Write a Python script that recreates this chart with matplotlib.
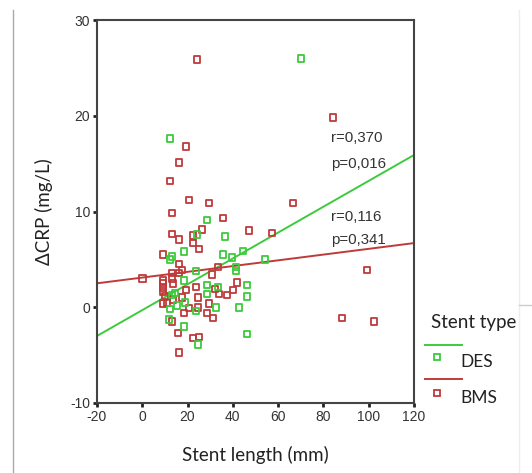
import matplotlib.pyplot as plt
from matplotlib.lines import Line2D

plt.rcParams["axes.unicode_minus"] = False

# DES (drug eluting stent) points: stent length (mm), delta CRP (mg/L)
des_x = [12.2, 28.6, 36.5, 24.2, 70.1, 18.4, 13.1, 12.2, 35.6, 39.6, 44.5, 54.2,
         23.7, 41.4, 41.4, 18.4, 28.6, 33.4, 46.3, 28.6, 46.3, 32.6, 42.7, 23.7,
         12.2, 15.3, 11.8, 18.4, 46.3, 24.6, 13.1, 14.5, 18.9]
des_y = [17.6, 9.1, 7.4, 7.6, 26.0, 5.8, 5.3, 5.0, 5.5, 5.2, 5.9, 5.0,
         3.8, 4.2, 3.8, 2.8, 2.3, 2.1, 2.3, 1.4, 1.1, 0.0, 0.0, -0.4,
         -0.2, 0.2, -1.3, -2.0, -2.8, -3.9, 1.3, 1.5, 0.5]

# BMS (bare metal stent) points
bms_x = [24.2, 84.2, 66.6, 57.3, 99.3, 88.2, 102.3, 0.0, 19.3, 16.2, 12.2, 20.6,
         29.5, 13.1, 35.6, 47.1, 13.1, 22.4, 26.4, 16.2, 22.4, 25.1, 9.1, 16.2,
         17.5, 13.1, 16.2, 33.4, 30.8, 9.1, 13.1, 41.8, 23.7, 32.1, 33.9, 37.4,
         40.0, 19.3, 24.6, 29.5, 24.6, 20.6, 18.4, 28.6, 31.2, 13.6, 9.1, 13.1,
         15.8, 22.4, 25.1, 16.2, 9.1, 9.1, 9.1, 10.0, 13.6, 17.5, 10.9]
bms_y = [25.9, 19.8, 10.9, 7.75, 3.9, -1.1, -1.5, 3.0, 16.8, 15.1, 13.2, 11.2,
         10.9, 9.85, 9.3, 8.0, 7.65, 7.5, 8.1, 7.1, 6.7, 6.1, 5.5, 4.5,
         3.9, 3.6, 3.6, 4.2, 3.4, 2.8, 3.0, 2.6, 2.1, 1.9, 1.4, 1.3,
         1.8, 1.8, 1.0, 0.4, 0.0, -0.1, -0.6, -0.6, -1.1, 0.8, 0.4, -1.5,
         -2.7, -3.2, -3.1, -4.7, 2.5, 2.0, 1.6, 1.1, 2.5, 1.0, 0.5]

# fit lines (intercept, slope)
des_fit = (-0.3, 0.135)
bms_fit = (3.1, 0.030)
x_range = [-20, 120]

des_stats = ["r=0,370", "p=0,016"]
bms_stats = ["r=0,116", "p=0,341"]

green = "#3ccb3c"
red = "#bf3a3a"

fig = plt.figure(figsize=(5.32, 4.73), dpi=100)
ax = fig.add_axes([0.1823, 0.148, 0.5959, 0.8097])

ax.plot(x_range, [des_fit[0] + des_fit[1] * x for x in x_range], color=green, lw=1.4, zorder=2)
ax.plot(x_range, [bms_fit[0] + bms_fit[1] * x for x in x_range], color=red, lw=1.4, zorder=2)
ax.scatter(bms_x, bms_y, marker="s", s=22, facecolors="none", edgecolors=red, linewidths=1.3, zorder=3)
ax.scatter(des_x, des_y, marker="s", s=22, facecolors="none", edgecolors=green, linewidths=1.3, zorder=3)

ax.set_xlim(-20, 120)
ax.set_ylim(-10, 30)
ax.set_xticks(range(-20, 121, 20))
ax.set_yticks(range(-10, 31, 10))
ax.tick_params(direction="out", length=3, width=2, color="#222222", labelsize=10,
               labelcolor="#333333", pad=2)
for lab in ax.get_xticklabels() + ax.get_yticklabels():
    lab.set_family("Liberation Sans")
for s in ax.spines.values():
    s.set_color("#444444")
    s.set_linewidth(1.5)

ax.set_xlabel("Stent length (mm)", family="Lato", fontsize=13.5, color="#222222", labelpad=16)
ax.set_ylabel("ΔCRP (mg/L)", family="Lato", fontsize=13.5, color="#222222", labelpad=12)

tk = dict(family="Liberation Sans", fontsize=10.8, color="#333333", va="center")
ax.text(83.4, 17.7, des_stats[0], **tk)
ax.text(83.4, 15.0, des_stats[1], **tk)
ax.text(83.4, 9.4, bms_stats[0], **tk)
ax.text(83.4, 7.0, bms_stats[1], **tk)

# legend drawn outside the plot
W, H = 532, 473
fig.text(431 / W, 1 - 322 / H, "Stent type", family="Lato", fontsize=13.5, color="#222222", va="center")
fig.add_artist(Line2D([425 / W, 462 / W], [1 - 345 / H] * 2, color=green, lw=1.4))
fig.add_artist(Line2D([437 / W], [1 - 357 / H], marker="s", ms=5, mfc="none", mec=green, mew=1.3))
fig.text(460 / W, 1 - 362 / H, "DES", family="Lato", fontsize=12.5, color="#222222", va="center")
fig.add_artist(Line2D([425 / W, 462 / W], [1 - 379 / H] * 2, color=red, lw=1.4))
fig.add_artist(Line2D([437 / W], [1 - 393 / H], marker="s", ms=5, mfc="none", mec=red, mew=1.3))
fig.text(460 / W, 1 - 398 / H, "BMS", family="Lato", fontsize=12.5, color="#222222", va="center")

# screenshot frame lines
fig.add_artist(Line2D([13 / W] * 2, [0, 1 - 10 / H], color="#aaaaaa", lw=1))
fig.add_artist(Line2D([519 / W] * 2, [0, 1 - 10 / H], color="#eeeeee", lw=1))
fig.add_artist(Line2D([519 / W, 1], [1 - 305 / H] * 2, color="#cccccc", lw=1))

fig.savefig("out.png", dpi=100)
